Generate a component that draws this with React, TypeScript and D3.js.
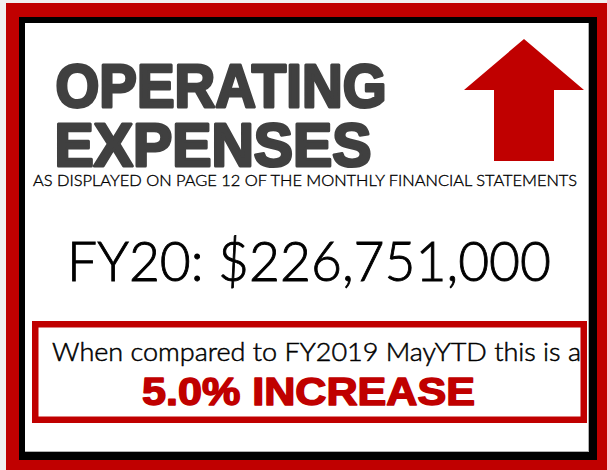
import React from "react";
import * as d3 from "d3";

const titleLines = ["OPERATING", "EXPENSES"];
const subtitle = ["AS DISPLAYED ON PAGE 12 OF THE MONTHLY FINANCIAL STATEMENTS"];
const fiscalYears = ["FY20", "FY2019"];
const amounts = [226751000];
const changes = [0.05];
const periods = ["MayYTD"];

const W = 607;
const H = 470;
const RED = "#c00000";
const GRAY = "#404040";
const LIGHT = "Lato, 'DejaVu Sans', sans-serif";
const BOLD = "'Liberation Sans', Arial, sans-serif";

export default function App() {
  const money = d3.format("$,")(amounts[0]);
  const pct = d3.format(".1%")(changes[0]);
  const arrow = d3.line()([
    [524, 39],
    [584, 90],
    [554, 90],
    [554, 161],
    [494, 161],
    [494, 90],
    [464, 90],
  ]) + "Z";
  return (
    <svg
      width={W}
      height={H}
      viewBox={`0 0 ${W} ${H}`}
      style={{ position: "fixed", left: 0, top: 0, display: "block" }}
    >
      <rect x={0} y={0} width={W} height={H} fill="#f0f0f0" />
      <rect x={6} y={3} width={W - 6} height={H - 3} fill={RED} />
      <rect x={19} y={17} width={578} height={443} fill="#000" />
      <rect x={25} y={23} width={564} height={429} fill="#fff" />
      <line x1={25} y1={451.5} x2={589} y2={451.5} stroke="#b0b0b0" strokeWidth={1} />
      <line x1={588.5} y1={23} x2={588.5} y2={452} stroke="#b0b0b0" strokeWidth={1} />

      <path d={arrow} fill={RED} />

      <text x={55.5} y={106.5} fontFamily={BOLD} fontWeight={900} fontSize={61} fill={GRAY}
        stroke={GRAY} strokeWidth={3} strokeLinejoin="round"
        textLength={331} lengthAdjust="spacingAndGlyphs">{titleLines[0]}</text>
      <text x={54.5} y={165.5} fontFamily={BOLD} fontWeight={900} fontSize={61} fill={GRAY}
        stroke={GRAY} strokeWidth={3} strokeLinejoin="round"
        textLength={317} lengthAdjust="spacingAndGlyphs">{titleLines[1]}</text>

      <text x={33} y={186} fontFamily={LIGHT} fontWeight={300} fontSize={15} fill="#000"
        stroke="#000" strokeWidth={0.35}
        textLength={544} lengthAdjust="spacingAndGlyphs">{subtitle[0]}</text>

      <text x={67} y={281} fontFamily={LIGHT} fontWeight={300} fontSize={55} fill="#000"
        stroke="#000" strokeWidth={0.9}
        textLength={484} lengthAdjust="spacingAndGlyphs">{`${fiscalYears[0]}: ${money}`}</text>

      <rect x={35.25} y={324.25} width={548.5} height={95.5} fill="none" stroke={RED} strokeWidth={6.5} />

      <text x={52} y={361} fontFamily={LIGHT} fontWeight={300} fontSize={25} fill="#000"
        stroke="#000" strokeWidth={0.5}
        textLength={529} lengthAdjust="spacingAndGlyphs">{`When compared to ${fiscalYears[1]} ${periods[0]} this is a`}</text>

      <text x={142} y={404.5} fontFamily={BOLD} fontWeight={700} fontSize={38} fill={RED}
        stroke={RED} strokeWidth={1.5} strokeLinejoin="round"
        textLength={333} lengthAdjust="spacingAndGlyphs">{`${pct} INCREASE`}</text>
    </svg>
  );
}
